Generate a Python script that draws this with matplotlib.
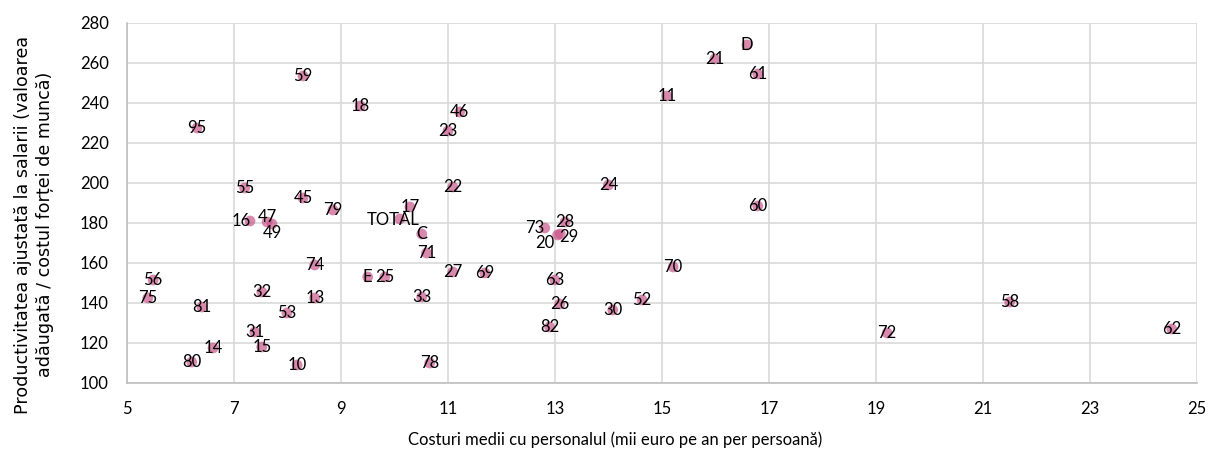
import matplotlib
matplotlib.use("Agg")
import matplotlib.pyplot as plt

# data
labels = ["59", "18", "95", "55", "45", "79", "16", "47", "49", "17", "TOTAL",
          "74", "E", "25", "56", "75", "32", "13", "81", "53", "31", "15", "14",
          "80", "10", "46", "23", "22", "24", "C", "71", "73", "28", "20", "29",
          "27", "69", "63", "33", "26", "30", "52", "82", "78", "D", "21", "61",
          "11", "60", "70", "58", "72", "62"]
cost = [8.29, 9.36, 6.31, 7.20, 8.29, 8.85, 7.30, 7.62, 7.71, 10.29, 10.10,
        8.51, 9.50, 9.82, 5.49, 5.39, 7.52, 8.51, 6.40, 7.99, 7.39, 7.52, 6.61,
        6.21, 8.18, 11.22, 11.00, 11.09, 14.00, 10.51, 10.60, 12.81, 13.19, 13.05, 13.10,
        11.09, 11.69, 13.00, 10.51, 13.09, 14.08, 14.63, 12.90, 10.66, 16.59, 15.99, 16.79,
        15.09, 16.79, 15.21, 21.50, 19.21, 24.53]
productivity = [253.5, 238.5, 227.5, 197.5, 192.5, 186.5, 181.0, 180.5, 179.5, 188.0, 182.0,
                159.0, 153.0, 153.0, 151.5, 142.5, 145.5, 142.5, 138.0, 135.0, 125.5, 118.0, 117.5,
                110.5, 109.0, 235.5, 226.0, 198.0, 199.0, 174.5, 165.0, 177.5, 180.5, 174.0, 174.5,
                155.5, 155.0, 151.5, 143.0, 139.5, 136.5, 141.5, 128.0, 110.0, 269.0, 262.0, 254.5,
                243.5, 188.5, 158.0, 140.5, 125.0, 127.0]

# labels that sit off-centre from their point (pixels, right / up)
label_shift = {"16": (-9, 0), "47": (0, 5), "49": (0, -9), "TOTAL": (-7, -1),
               "73": (-10, 0), "20": (-13, -8), "29": (9, -3)}

fig = plt.figure(figsize=(12.09, 4.59), dpi=100)
ax = fig.add_axes([0.105, 0.1656, 0.885, 0.7844])

ax.scatter(cost, productivity, s=60, color="#c8578a", alpha=0.7,
           edgecolors="none", zorder=3)

for lab, x, y in zip(labels, cost, productivity):
    dx, dy = label_shift.get(lab, (0, 0))
    ax.annotate(lab, (x, y), xytext=(dx * 0.72, dy * 0.72), textcoords="offset points",
                ha="center", va="center", fontsize=12, family="Lato",
                color="black", zorder=4)

ax.set_xlim(5, 25)
ax.set_ylim(100, 280)
ax.set_xticks(range(5, 26, 2))
ax.set_yticks(range(100, 281, 20))
ax.grid(True, color="#d9d9d9", linewidth=1.2)
ax.set_axisbelow(True)
for side in ["top", "right"]:
    ax.spines[side].set_visible(False)
for side in ["left", "bottom"]:
    ax.spines[side].set_color("#bfbfbf")
    ax.spines[side].set_linewidth(1.2)
ax.tick_params(length=0, labelsize=12, pad=13)
for t in ax.get_xticklabels() + ax.get_yticklabels():
    t.set_family("Lato")

ax.set_xlabel("Costuri medii cu personalul (mii euro pe an per persoană)",
              fontsize=12, family="Lato", va="center")
ax.xaxis.set_label_coords(0.456, -0.158)
ax.set_ylabel("Productivitatea ajustată la salarii (valoarea\nadăugată / costul forței de muncă)",
              fontsize=12.6, family="DejaVu Sans", linespacing=1.3, va="center")
ax.yaxis.set_label_coords(-0.087, 0.44)

fig.savefig("out.png", dpi=100)
